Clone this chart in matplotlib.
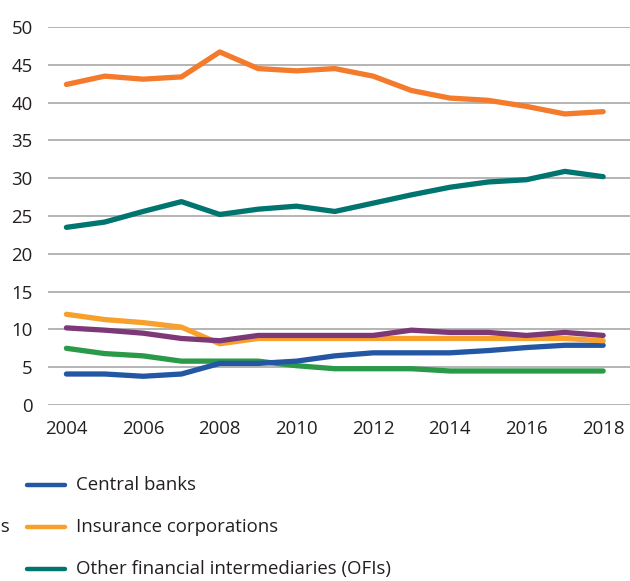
import matplotlib.pyplot as plt
from matplotlib.lines import Line2D

plt.rcParams['font.family'] = ['Open Sans', 'DejaVu Sans']

years = list(range(2004, 2019))

# shares of total financial assets, per cent
banks = [42.4, 43.5, 43.1, 43.4, 46.7, 44.5, 44.2, 44.5, 43.5, 41.6, 40.6, 40.3, 39.5, 38.5, 38.8]
ofis = [23.5, 24.2, 25.6, 26.9, 25.2, 25.9, 26.3, 25.6, 26.7, 27.8, 28.8, 29.5, 29.8, 30.9, 30.2]
insurance = [12.0, 11.3, 10.9, 10.3, 8.1, 8.8, 8.8, 8.8, 8.8, 8.8, 8.8, 8.8, 8.8, 8.8, 8.5]
other_fi = [10.2, 9.9, 9.5, 8.8, 8.5, 9.2, 9.2, 9.2, 9.2, 9.9, 9.6, 9.6, 9.2, 9.6, 9.2]
pension = [7.5, 6.8, 6.5, 5.8, 5.8, 5.8, 5.2, 4.8, 4.8, 4.8, 4.5, 4.5, 4.5, 4.5, 4.5]
central = [4.1, 4.1, 3.8, 4.1, 5.5, 5.5, 5.8, 6.5, 6.9, 6.9, 6.9, 7.2, 7.6, 7.9, 7.9]

xticks = list(range(2004, 2019, 2))
yticks = list(range(0, 51, 5))

legend_labels = ['Central banks', 'Insurance corporations', 'Other financial intermediaries (OFIs)']

c_banks = '#F47A2C'
c_ofis = '#00746F'
c_ins = '#F8A02C'
c_other = '#7D3878'
c_pens = '#2A9A48'
c_cb = '#2357A3'

W, H = 630, 581
fig = plt.figure(figsize=(W / 100, H / 100), dpi=100)
ax = fig.add_axes([48 / W, 1 - 405 / H, 1 - 48 / W, (405 - 27) / H])

lw = 3.8
for series, col in [(pension, c_pens), (central, c_cb), (insurance, c_ins),
                    (other_fi, c_other), (ofis, c_ofis), (banks, c_banks)]:
    ax.plot(years, series, color=col, lw=lw, solid_capstyle='round',
            solid_joinstyle='round', zorder=3)

ax.set_xlim(2003.52, 2018.7)
ax.set_ylim(0, 50)
ax.set_xticks(xticks)
ax.set_yticks(yticks)
ax.grid(axis='y', color='#A8A8A8', lw=1.2, zorder=1)
ax.set_axisbelow(True)
for s in ax.spines.values():
    s.set_visible(False)
ax.tick_params(length=0, labelsize=13.4, colors='#231F20')
ax.tick_params(axis='y', pad=11)
ax.tick_params(axis='x', pad=10.5)

# legend, drawn by hand
leg_colors = [c_cb, c_ins, c_ofis]
for i, (lab, col) in enumerate(zip(legend_labels, leg_colors)):
    y = 1 - (485 + i * 42) / H
    fig.add_artist(Line2D([27 / W, 65 / W], [y, y], transform=fig.transFigure,
                          color=col, lw=3.2, solid_capstyle='round'))
    fig.text(76 / W, y, lab, fontsize=13.4, color='#231F20', va='center', ha='left')

# left legend column, cut off at the figure edge
fig.text(10 / W, 1 - 527 / H, 'Pension funds', fontsize=13.4, color='#231F20',
         va='center', ha='right')

fig.savefig('out.png', dpi=100)
